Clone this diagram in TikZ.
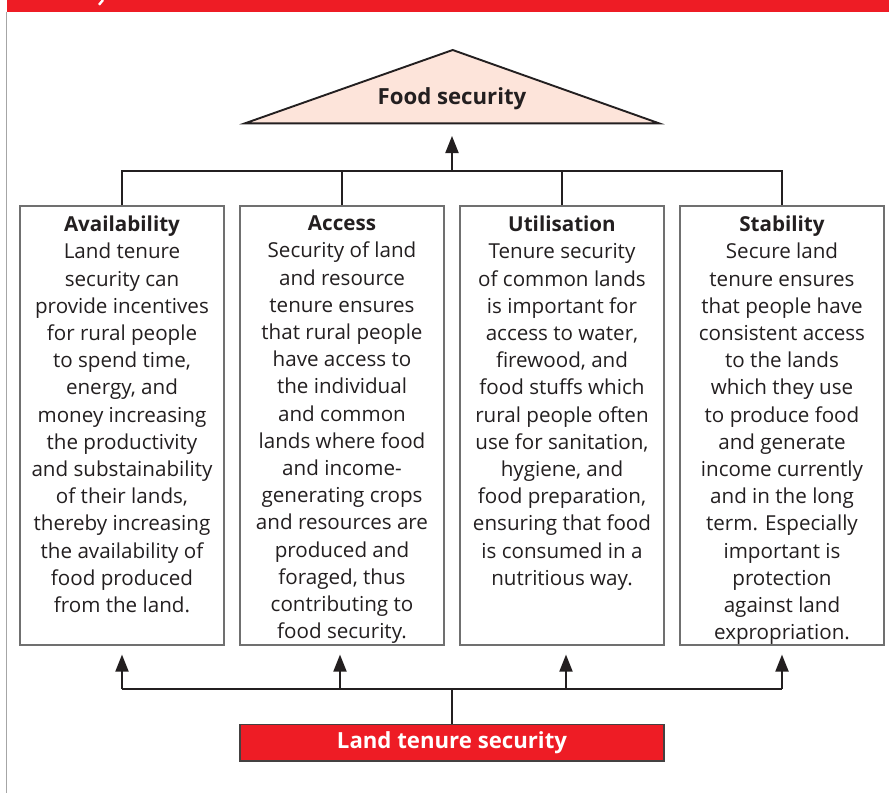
\documentclass[tikz,border=0pt]{standalone}
\usepackage{fontspec}
\setmainfont{Open Sans}
\usetikzlibrary{arrows.meta}
\definecolor{ink}{HTML}{231F20}
\definecolor{hdrred}{HTML}{EE1C25}
\definecolor{peach}{HTML}{FDE4DA}
\definecolor{framegray}{HTML}{707070}
\tikzset{
  panel/.style={draw=framegray, line width=1.1pt, minimum width=204pt, minimum height=439pt, inner sep=0pt},
  paneltext/.style={anchor=north, align=center, inner sep=0pt, text=ink,
    font=\fontsize{20.6}{27.2}\selectfont},
  link/.style={draw=ink, line width=1.9pt},
  uparrow/.style={link, -{Triangle[length=17pt,width=13pt]}},
}
\begin{document}
\begin{tikzpicture}[x=1pt,y=-1pt]
\useasboundingbox (0,0) rectangle (889,793);
\fill[white] (0,0) rectangle (889,793);

% page header band and margin rule
\fill[hdrred] (7,0) rectangle (889,11.7);
\draw[white, line width=2.4pt] (99,4.8) -- (103,0);
\draw[gray!70, line width=1pt] (6.5,11.7) -- (6.5,793);

% goal triangle
\filldraw[fill=peach, draw=ink, line width=1.9pt, line join=miter]
  (245,123.3) -- (452.7,50) -- (659,123.3) -- cycle;
\node[text=ink, font=\fontsize{22.2}{26}\selectfont\bfseries] (food) at (452,99) {Food security};
\coordinate (foodbase) at (452,136);

% the four pillars
\node[panel] (b1) at (122,425.5) {};
\node[panel] (b2) at (342,425.5) {};
\node[panel] (b3) at (562,425.5) {};
\node[panel] (b4) at (782,425.5) {};

\node[paneltext] (t1) at ([yshift=-10.3]b1.north) {\textbf{Availability}\\
Land tenure\\ security can\\ provide incentives\\ for rural people\\ to spend time,\\
energy, and\\ money increasing\\ the productivity\\ and substainability\\ of their lands,\\
thereby increasing\\ the availability of\\ food produced\\ from the land.};
\node[paneltext] (t2) at ([yshift=-10.3]b2.north) {\textbf{Access}\\
Security of land\\ and resource\\ tenure ensures\\ that rural people\\ have access to\\
the individual\\ and common\\ lands where food\\ and income-\\ generating crops\\
and resources are\\ produced and\\ foraged, thus\\ contributing to\\ food security.};
\node[paneltext] (t3) at ([yshift=-10.3]b3.north) {\textbf{Utilisation}\\
Tenure security\\ of common lands\\ is important for\\ access to water,\\ firewood, and\\
food stuffs which\\ rural people often\\ use for sanitation,\\ hygiene, and\\
food preparation,\\ ensuring that food\\ is consumed in a\\ nutritious way.};
\node[paneltext] (t4) at ([yshift=-10.3]b4.north) {\textbf{Stability}\\
Secure land\\ tenure ensures\\ that people have\\ consistent access\\ to the lands\\
which they use\\ to produce food\\ and generate\\ income currently\\ and in the long\\
term. Especially\\ important is\\ protection\\ against land\\ expropriation.};

% source box
\node[draw=ink!85, fill=hdrred, line width=1.5pt, minimum width=424pt, minimum height=36.5pt,
  inner sep=0pt, text=white, font=\fontsize{22.2}{26}\selectfont\bfseries] (land) at (452,742.5)
  {Land tenure security};

% upper collector
\coordinate (hub) at (452,170.7);
\draw[link] (b1.north) -- (b1.north |- hub) -- (b4.north |- hub) -- (b4.north);
\draw[link] (b2.north) -- (b2.north |- hub);
\draw[link] (b3.north) -- (b3.north |- hub);
\draw[uparrow] (hub) -- (foodbase);

% lower distributor
\coordinate (split) at (452,689);
\draw[link] (land.north) -- (split);
\draw[link] (b1.south |- split) -- (b4.south |- split);
\draw[uparrow] (b1.south |- split) -- ([yshift=-9]b1.south);
\draw[uparrow] ([xshift=-2]b2.south |- split) -- ([xshift=-2,yshift=-9]b2.south);
\draw[uparrow] ([xshift=4]b3.south |- split) -- ([xshift=4,yshift=-9]b3.south);
\draw[uparrow] (b4.south |- split) -- ([yshift=-9]b4.south);
\end{tikzpicture}
\end{document}
